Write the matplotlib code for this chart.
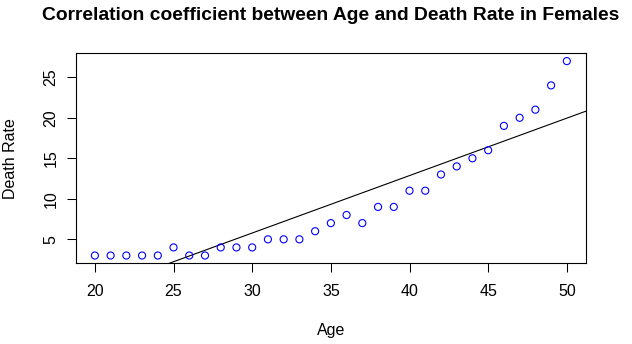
import numpy as np
import matplotlib
matplotlib.use("Agg")
import matplotlib.pyplot as plt

age = [20, 21, 22, 23, 24, 25, 26, 27, 28, 29, 30, 31, 32, 33, 34, 35,
       36, 37, 38, 39, 40, 41, 42, 43, 44, 45, 46, 47, 48, 49, 50]
death_rate = [3, 3, 3, 3, 3, 4, 3, 3, 4, 4, 4, 5, 5, 5, 6, 7,
              8, 7, 9, 9, 11, 11, 13, 14, 15, 16, 19, 20, 21, 24, 27]
x_ticks = [20, 25, 30, 35, 40, 45, 50]
y_ticks = [5, 10, 15, 20, 25]

plt.rcParams['font.family'] = ['Liberation Sans', 'DejaVu Sans']

W, H = 632, 344
L, R, T, B = 76, 585.7, 53.3, 263.3
fig = plt.figure(figsize=(W/100, H/100), dpi=100)
ax = fig.add_axes([L/W, (H-B)/H, (R-L)/W, (B-T)/H])

ax.scatter(age, death_rate, s=26, facecolors='none', edgecolors='blue', linewidths=0.8, zorder=3)

b, a = np.polyfit(age, death_rate, 1)
xlo, xhi = 18.8, 51.2
ylo, yhi = 2.04, 27.96
xs = np.array([xlo, xhi])
ax.plot(xs, a + b * xs, color='black', linewidth=0.8, zorder=2)

ax.set_xlim(xlo, xhi)
ax.set_ylim(ylo, yhi)
ax.set_xticks(x_ticks)
ax.set_yticks(y_ticks)
ax.tick_params(direction='out', length=6.7, width=0.75, labelsize=11.5)
ax.tick_params(axis='x', pad=8)
ax.tick_params(axis='y', pad=6)
for lbl in ax.get_yticklabels():
    lbl.set_rotation(90)
    lbl.set_va('center')
for s in ax.spines.values():
    s.set_linewidth(0.8)

fig.text((L+R)/2/W, 1 - 330.5/H, 'Age', ha='center', va='center', fontsize=11.5)
fig.text(11/W, 1 - (T+B)/2/H, 'Death Rate', ha='center', va='center', rotation=90, fontsize=11.5)
fig.text((L+R)/2/W, 1 - 15.5/H, 'Correlation coefficient between Age and Death Rate in Females',
         ha='center', va='center', fontsize=13.9, fontweight='bold')

fig.savefig('out.png', dpi=100)
